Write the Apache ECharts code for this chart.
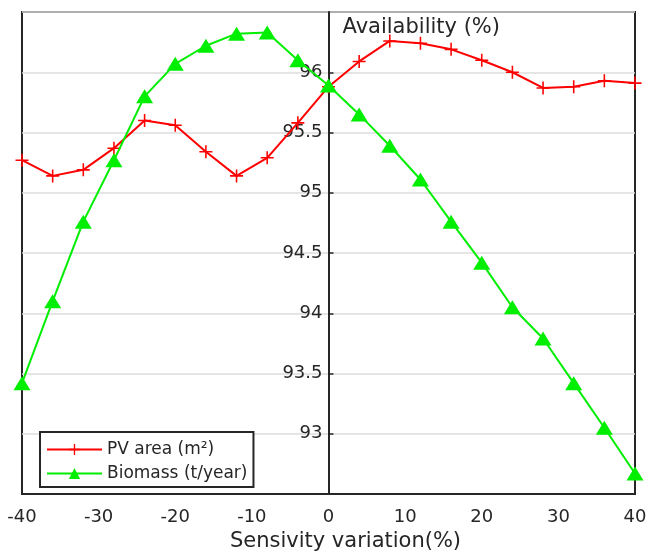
<!DOCTYPE html>
<html>
<head>
<meta charset="utf-8">
<script src="https://cdn.jsdelivr.net/npm/echarts@6/dist/echarts.min.js"></script>
<style>
  html, body { margin: 0; padding: 0; background: #fff; }
  #chart { width: 664px; height: 557px; }
</style>
</head>
<body>
<div id="chart"></div>
<script>
// Sensitivity variation steps (%)
const variation = [-40, -36, -32, -28, -24, -20, -16, -12, -8, -4, 0, 4, 8, 12, 16, 20, 24, 28, 32, 36, 40];

// Availability (%) when the PV area is varied
const pvArea = [95.27, 95.14, 95.19, 95.37, 95.60, 95.56, 95.34, 95.14, 95.29, 95.58, 95.88,
                96.09, 96.26, 96.24, 96.19, 96.10, 96.00, 95.87, 95.88, 95.93, 95.91];

// Availability (%) when the biomass supply is varied
const biomass = [93.42, 94.10, 94.76, 95.27, 95.80, 96.07, 96.22, 96.32, 96.33, 96.10, 95.89,
                 95.65, 95.39, 95.11, 94.76, 94.42, 94.05, 93.79, 93.42, 93.05, 92.67];

const seriesNames = ['PV area (m²)', 'Biomass (t/year)'];
const xTitle = 'Sensivity variation(%)';
const yTitle = 'Availability (%)';

const FONT = 'DejaVu Sans';
const INK = '#262626';

// plot box in pixels
const GRID_LEFT = 22, GRID_RIGHT = 29, GRID_TOP = 12, GRID_BOTTOM = 63;
const WIDTH = 664;
const plotWidth = WIDTH - GRID_LEFT - GRID_RIGHT;
// the vertical axis sits at x = 0, halfway across the -40..40 range
const yAxisShift = -plotWidth / 2;

// filled plus sign used as the PV marker
const plusPath = 'path://M-1.2,-10 H1.2 V-1.2 H10 V1.2 H1.2 V10 H-1.2 V1.2 H-10 V-1.2 H-1.2 Z';

const chart = echarts.init(document.getElementById('chart'), null, { renderer: 'canvas' });

chart.setOption({
  animation: false,
  backgroundColor: '#fff',
  textStyle: { fontFamily: FONT },
  grid: {
    left: GRID_LEFT, right: GRID_RIGHT, top: GRID_TOP, bottom: GRID_BOTTOM,
    containLabel: false,
    outerBoundsMode: 'none',
    show: true, borderColor: INK, borderWidth: 2, backgroundColor: 'transparent'
  },
  legend: {
    left: 40, top: 432,
    orient: 'vertical',
    itemWidth: 55, itemHeight: 14, itemGap: 7,
    padding: [9, 6, 5, 6],
    borderColor: INK, borderWidth: 2, borderRadius: 0,
    backgroundColor: '#fff',
    textStyle: { fontFamily: FONT, fontSize: 17, color: INK },
    data: seriesNames
  },
  xAxis: {
    type: 'value',
    min: -40, max: 40, interval: 10,
    name: xTitle,
    nameLocation: 'middle',
    nameGap: 34,
    nameTextStyle: { fontFamily: FONT, fontSize: 21, color: INK, padding: [0, 0, 0, 34] },
    axisLine: { show: true, onZero: false, lineStyle: { color: INK, width: 2 } },
    axisTick: { show: false },
    axisLabel: { fontFamily: FONT, fontSize: 18, color: INK, margin: 14 },
    splitLine: { show: false }
  },
  yAxis: {
    type: 'value',
    position: 'left',
    offset: yAxisShift,
    min: 92.5, max: 96.5, interval: 0.5,
    name: yTitle,
    nameLocation: 'end',
    nameGap: -26,
    nameTextStyle: { fontFamily: FONT, fontSize: 21, color: INK, align: 'left', padding: [0, 0, 0, 14] },
    axisLine: { show: true, onZero: false, lineStyle: { color: INK, width: 2 } },
    axisTick: { show: true, inside: true, length: 5, lineStyle: { color: INK, width: 1.5 } },
    axisLabel: {
      fontFamily: FONT, fontSize: 18, color: INK, margin: 6,
      showMinLabel: false, showMaxLabel: false
    },
    splitLine: { show: true, lineStyle: { color: '#dcdcdc', width: 1.5 } }
  },
  series: [
    {
      name: seriesNames[0],
      type: 'line',
      data: variation.map((x, i) => [x, pvArea[i]]),
      symbol: plusPath,
      symbolSize: 13,
      showAllSymbol: true,
      lineStyle: { color: '#ff0000', width: 2 },
      itemStyle: { color: '#ff0000' },
      z: 3
    },
    {
      name: seriesNames[1],
      type: 'line',
      data: variation.map((x, i) => [x, biomass[i]]),
      symbol: 'triangle',
      symbolSize: [17, 14],
      showAllSymbol: true,
      lineStyle: { color: '#00ee00', width: 2 },
      itemStyle: { color: '#00ee00' },
      z: 4
    }
  ]
});
</script>
</body>
</html>
